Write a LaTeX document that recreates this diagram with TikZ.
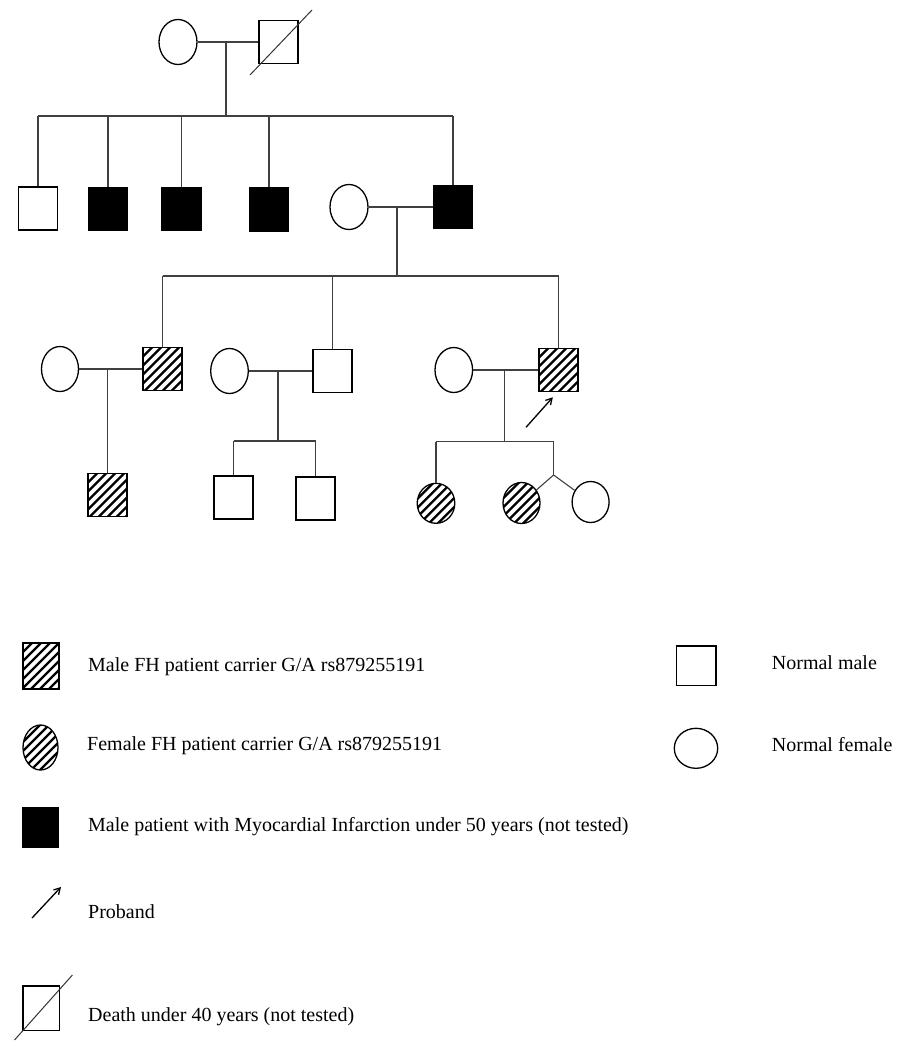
\documentclass[tikz,border=0pt]{standalone}
\usepackage{fontspec}
\setmainfont{Liberation Serif}
\usetikzlibrary{shapes.geometric,arrows.meta,calc}
\tikzset{
  male/.style={draw=black,line width=1.3pt,rectangle,inner sep=0pt,minimum width=39pt,minimum height=43pt},
  female/.style={draw=black,line width=1.3pt,ellipse,inner sep=0pt,minimum width=38pt,minimum height=45pt},
  hatch/.style={path picture={
    \foreach \i in {-8,...,8}
      \draw[line width=2.3pt,black]
        ($(path picture bounding box.center)+(\i*9pt,-40pt)$) -- ++(80pt,80pt);
  }},
  affected/.style={fill=black},
  conn/.style={draw=black!75,line width=1.1pt},
  probarrow/.style={line width=1.3pt,-{Straight Barb[length=6pt,width=7pt]}},
  slash/.style={line width=1pt,draw=black!80},
  lbl/.style={anchor=west,inner sep=0pt,font=\fontsize{20}{22}\selectfont}
}
\begin{document}
\begin{tikzpicture}[x=1pt,y=-1pt]
\useasboundingbox (0,0) rectangle (908,1041);
% ---- generation I
\node[female] (gm) at (178,42) {};
\node[male] (gf) at (278.5,42) {};
\coordinate (gfa) at (250,75);
\coordinate (gfb) at (312,10);
\draw[slash] (gfa) -- (gfb);
\draw[conn] (gm.east) -- (gf.west);
\coordinate (m0) at (226,42);
\coordinate (s0) at (226,116);
\draw[conn] (m0) -- (s0);
% ---- generation II
\node[male] (a1) at (38,208.5) {};
\node[male,affected] (a2) at (108,209) {};
\node[male,affected] (a3) at (181.5,209) {};
\node[male,affected] (a4) at (269,209.5) {};
\node[female] (aw) at (349,207) {};
\node[male,affected] (a6) at (453,207) {};
\draw[conn] (a1.north |- s0) -- (a6.north |- s0);
\foreach \n in {a1,a2,a3,a4,a6} \draw[conn] (\n.north) -- (\n.north |- s0);
\draw[conn] (aw.east) -- (a6.west);
\coordinate (m1) at (397,207);
\coordinate (s1) at (397,276);
\draw[conn] (m1) -- (s1);
% ---- generation III
\node[female,minimum width=37pt] (b1) at (60,369) {};
\node[male,hatch] (b2) at (162.5,369) {};
\node[female,minimum width=37.6pt] (c1) at (229.5,371) {};
\node[male] (c2) at (332.5,371) {};
\node[female,minimum width=37.6pt] (d1) at (453.8,370) {};
\node[male,hatch] (d2) at (558.5,370) {};
\draw[conn] (b2.north |- s1) -- (d2.north |- s1);
\foreach \n in {b2,c2,d2} \draw[conn] (\n.north) -- (\n.north |- s1);
\draw[conn] (b1.east) -- (b2.west);
\draw[conn] (c1.east) -- (c2.west);
\draw[conn] (d1.east) -- (d2.west);
% proband arrow
\coordinate (pa) at (526,427.3);
\coordinate (pb) at (552.8,397.3);
\draw[probarrow] (pa) -- (pb);
% ---- generation IV
\coordinate (mb) at (107.5,369);
\node[male,hatch] (b3) at (107.5,495) {};
\draw[conn] (mb) -- (b3.north);
\coordinate (mc) at (278,371);
\coordinate (sc) at (278,441);
\draw[conn] (mc) -- (sc);
\node[male] (c3) at (233.5,497.5) {};
\node[male] (c4) at (315.5,498.5) {};
\draw[conn] (c3.north |- sc) -- (c4.north |- sc);
\draw[conn] (c3.north) -- (c3.north |- sc);
\draw[conn] (c4.north) -- (c4.north |- sc);
\coordinate (md) at (504.5,370);
\coordinate (sd) at (504.5,441.5);
\draw[conn] (md) -- (sd);
\node[female,hatch,minimum width=37.6pt,minimum height=40pt] (d3) at (436,503.3) {};
\node[female,hatch,minimum width=37pt,minimum height=41pt] (d4) at (521.5,503) {};
\node[female,minimum width=37pt,minimum height=41pt] (d5) at (590.6,502) {};
\coordinate (tw) at (553.6,475);
\draw[conn] (d3.north |- sd) -- (tw |- sd);
\draw[conn] (d3.north) -- (d3.north |- sd);
\draw[conn] (tw |- sd) -- (tw);
\draw[conn] (tw) -- (d4);
\draw[conn] (tw) -- (d5);
% ---- legend
\node[male,hatch,minimum width=36pt,minimum height=46pt] (l1) at (41,666) {};
\node[lbl] (t1) at (88,667) {Male FH patient carrier G/A rs879255191};
\node[female,hatch,minimum width=35pt,minimum height=45pt] (l2) at (40.5,747.5) {};
\node[lbl] (t2) at (87,746) {Female FH patient carrier G/A rs879255191};
\node[male,affected,minimum width=35pt,minimum height=40pt] (l3) at (40.5,827.7) {};
\node[lbl] (t3) at (88,826.7) {Male patient with Myocardial Infarction under 50 years (not tested)};
\coordinate (l4a) at (32,918);
\coordinate (l4b) at (61,887);
\draw[probarrow] (l4a) -- (l4b);
\node[lbl] (t4) at (88,911.7) {Proband};
\node[male,minimum width=36.6pt,minimum height=44.7pt] (l5) at (41.3,1008.3) {};
\coordinate (l5a) at (14.5,1040);
\coordinate (l5b) at (72.4,975);
\draw[slash] (l5a) -- (l5b);
\node[lbl] (t5) at (88,1016.7) {Death under 40 years (not tested)};
\node[male,minimum width=39.3pt,minimum height=39.7pt] (r1) at (696.3,665.8) {};
\node[lbl] (t6) at (771.7,663) {Normal male};
\node[female,minimum width=43.4pt,minimum height=40pt] (r2) at (696,748.3) {};
\node[lbl] (t7) at (771.7,745) {Normal female};
\end{tikzpicture}
\end{document}
